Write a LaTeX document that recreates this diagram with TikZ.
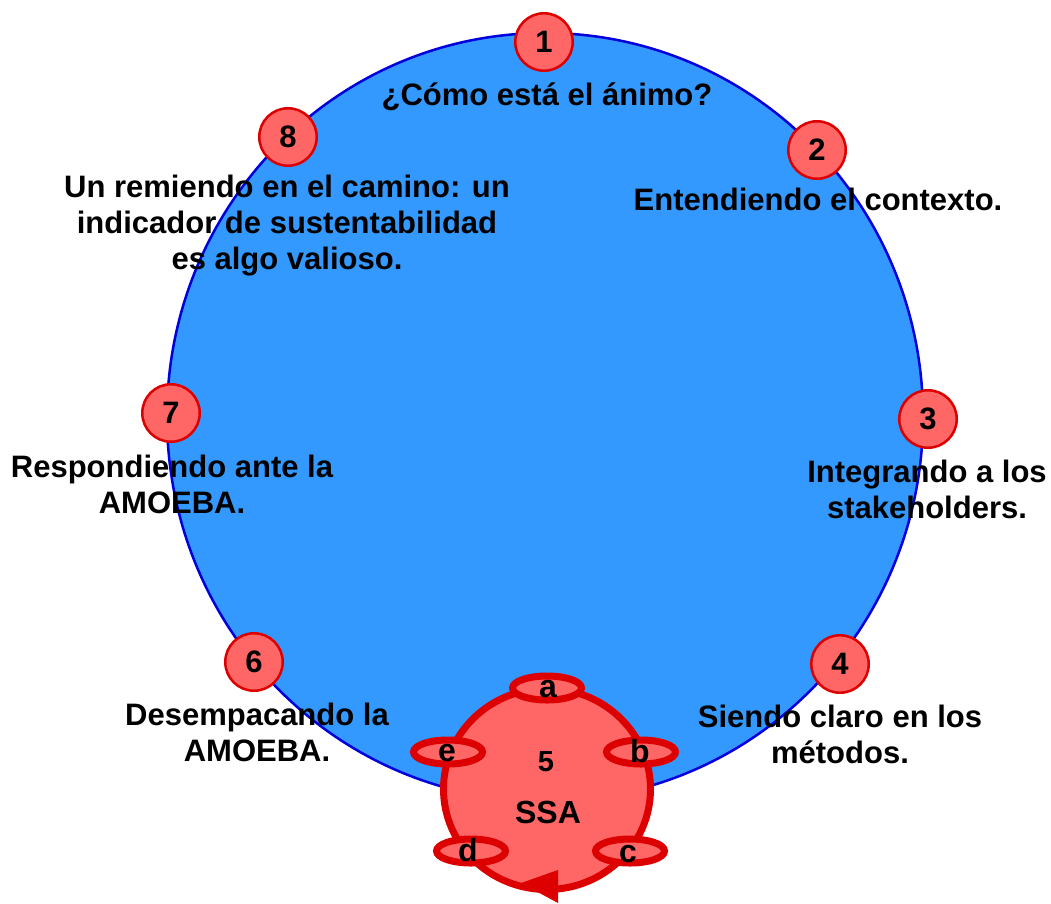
\documentclass[tikz,border=0pt]{standalone}
\usepackage{fontspec}
\setmainfont{Liberation Sans}
\usetikzlibrary{shapes.geometric}
\definecolor{bigblue}{RGB}{51,153,255}
\definecolor{edgeblue}{RGB}{0,0,220}
\definecolor{salmonred}{RGB}{255,102,102}
\definecolor{deepred}{RGB}{221,0,0}
\newcommand{\lines}[1]{\begin{tabular}[t]{@{}c@{}}#1\end{tabular}}
\tikzset{
  bigcirc/.style={ellipse, draw=edgeblue, line width=2.5pt, fill=bigblue, minimum width=756pt, minimum height=768pt, inner sep=0pt},
  ssacirc/.style={ellipse, draw=deepred, line width=7pt, fill=salmonred, minimum width=207pt, minimum height=201pt, inner sep=0pt},
  ring/.style={ellipse, draw=deepred, line width=7pt, fill=salmonred, minimum width=69pt, minimum height=24pt, inner sep=0pt},
  numc/.style={circle, draw=deepred, line width=2.5pt, fill=salmonred, minimum size=57.5pt, inner sep=0pt, font=\fontsize{31}{36}\selectfont\bfseries},
  lbl/.style={anchor=base, inner sep=0pt, font=\fontsize{31}{36}\selectfont\bfseries},
  letter/.style={anchor=base, inner sep=0pt, font=\fontsize{32}{36}\selectfont\bfseries},
}
\begin{document}
\begin{tikzpicture}[x=1pt, y=-1pt]
\useasboundingbox (0,0) rectangle (1051,903);
% big circle
\node[bigcirc] (big) at (545,417) {};
% SSA circle
\node[ssacirc] (ssa) at (547,789) {};
\fill[deepred] (521,883) -- (558,870) -- (558,903) -- cycle;
% rings
\node[ring] (ra) at (547,688) {};
\node[ring] (rb) at (641,752) {};
\node[ring] (rc) at (630,851) {};
\node[ring] (rd) at (471,851) {};
\node[ring] (re) at (448,752) {};
\node[letter] (la) at (548,697) {a};
\node[letter] (lb) at (640,762) {b};
\node[letter] (lc) at (628,862) {c};
\node[letter] (ld) at (468,861) {d};
\node[letter] (le) at (447,761) {e};
\node[inner sep=0pt, font=\fontsize{29}{32}\selectfont\bfseries] (five) at (546,762) {5};
\node[inner sep=0pt, font=\fontsize{32}{36}\selectfont\bfseries] (ssatxt) at (548,812) {SSA};
% numbered circles
\node[numc] (n1) at (544,42) {1};
\node[numc] (n2) at (817,150) {2};
\node[numc] (n3) at (928,419) {3};
\node[numc] (n4) at (840,664) {4};
\node[numc] (n6) at (254,662) {6};
\node[numc] (n7) at (171,413) {7};
\node[numc] (n8) at (288,137) {8};
% labels
\node[lbl] (t1) at (547,105) {¿Cómo está el ánimo?};
\node[lbl] (t2) at (818,210) {Entendiendo el contexto.};
\node[lbl] (t3) at (927,482) {\lines{Integrando a los\\stakeholders.}};
\node[lbl] (t4) at (840,727) {\lines{Siendo claro en los\\métodos.}};
\node[lbl] (t6) at (257,725) {\lines{Desempacando la\\AMOEBA.}};
\node[lbl] (t7) at (172,477) {\lines{Respondiendo ante la\\AMOEBA.}};
\node[lbl] (t8) at (287,197) {\lines{Un remiendo en el camino: un\\indicador de sustentabilidad\\es algo valioso.}};
\end{tikzpicture}
\end{document}
